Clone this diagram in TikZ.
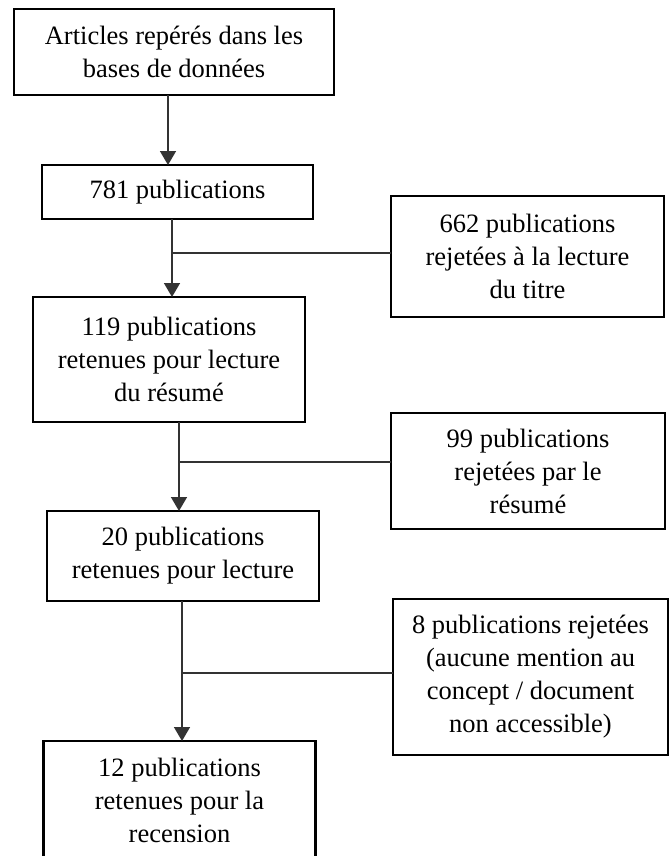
\documentclass[tikz,border=0pt]{standalone}
\usepackage{fontspec}
\setmainfont{Liberation Serif}
\usetikzlibrary{arrows.meta}
\begin{document}
\begin{tikzpicture}[x=1pt,y=-1pt,
  box/.style={draw=black,line width=2.5pt,inner sep=0pt,outer sep=0pt,align=center,
    font=\fontsize{26.5}{33}\selectfont},
  conn/.style={draw=black!80,line width=1.6pt},
  hconn/.style={draw=black!80,line width=1.2pt},
  arr/.style={conn,-{Triangle[width=16pt,length=14pt]}}]
\useasboundingbox (0,0) rectangle (670,856);
\clip (0,0) rectangle (670,856);
\node[box,minimum width=320pt,minimum height=86pt] (b1) at (174,52) {Articles repérés dans les\\bases de données};
\node[box,minimum width=271pt,minimum height=54pt] (b2) at (177.5,192) {781 publications};
\node[box,minimum width=273pt,minimum height=121pt] (bA) at (527.5,256.5) {662 publications\\rejetées à la lecture\\du titre};
\node[box,minimum width=272pt,minimum height=125pt] (b3) at (169,359.5) {119 publications\\retenues pour lecture\\du résumé};
\node[box,minimum width=274pt,minimum height=116pt] (bB) at (528,471) {99 publications\\rejetées par le\\résumé};
\node[box,minimum width=272pt,minimum height=90pt] (b4) at (183,556) {20 publications\\retenues pour lecture};
\node[box,minimum width=275pt,minimum height=156pt] (bC) at (530.5,677) {8 publications rejetées\\(aucune mention au\\concept / document\\non accessible)};
\node[box,minimum width=272pt,minimum height=118pt] (b5) at (179.5,800) {12 publications\\retenues pour la\\recension};
\coordinate (a1) at (168,130);
\coordinate (j1) at (172,253);
\coordinate (j2) at (179,462);
\coordinate (j3) at (182,673);
\draw[arr] (b1.south -| a1) -- (b2.north -| a1);
\draw[conn] (b2.south -| j1) -- (j1);
\draw[arr] (j1) -- (b3.north -| j1);
\draw[hconn] (j1) -- (bA.west |- j1);
\draw[conn] (b3.south -| j2) -- (j2);
\draw[arr] (j2) -- (b4.north -| j2);
\draw[hconn] (j2) -- (bB.west |- j2);
\draw[conn] (b4.south -| j3) -- (j3);
\draw[arr] (j3) -- (b5.north -| j3);
\draw[hconn] (j3) -- (bC.west |- j3);
\end{tikzpicture}
\end{document}
